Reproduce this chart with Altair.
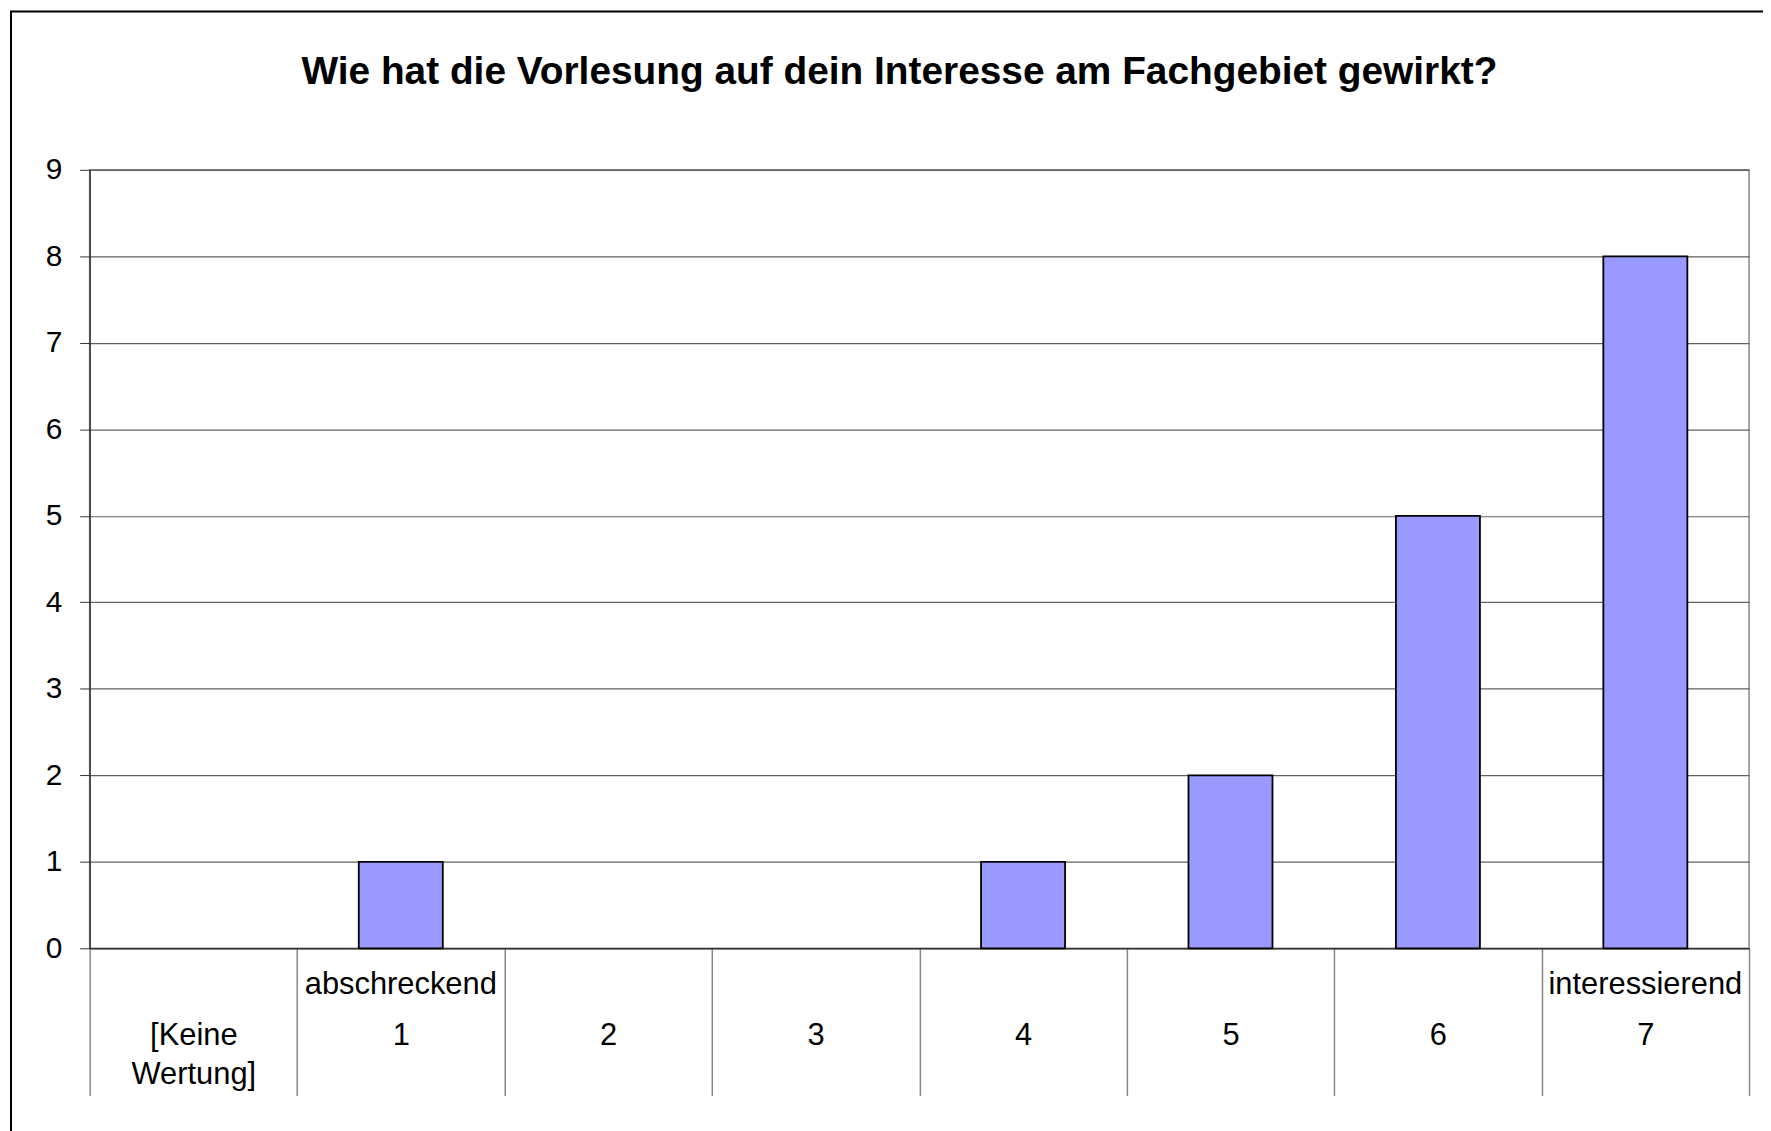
import altair as alt
import pandas as pd

categories = ["[Keine Wertung]", "1", "2", "3", "4", "5", "6", "7"]
counts = [0, 1, 0, 0, 1, 2, 5, 8]
top_labels = ["", "abschreckend", "", "", "", "", "", "interessierend"]
main_labels = [["[Keine", "Wertung]"], ["1"], ["2"], ["3"], ["4"], ["5"], ["6"], ["7"]]
y_ticks = [0, 1, 2, 3, 4, 5, 6, 7, 8, 9]
title = "Wie hat die Vorlesung auf dein Interesse am Fachgebiet gewirkt?"

df = pd.DataFrame({"Kategorie": categories, "Anzahl": counts})

def js_arr(lines):
    return "[" + ",".join("'" + l + "'" for l in lines) + "]"

main_expr = "''"
top_expr = "''"
for cat, top, main in reversed(list(zip(categories, top_labels, main_labels))):
    main_expr = f"datum.value == '{cat}' ? {js_arr(main)} : ({main_expr})"
    top_expr = f"datum.value == '{cat}' ? '{top}' : ({top_expr})"

FONT = "Liberation Sans"
x_scale = alt.Scale(domain=categories, paddingInner=0, paddingOuter=0)

y_enc = alt.Y(
    "Anzahl:Q",
    scale=alt.Scale(domain=[0, 9], nice=False),
    axis=alt.Axis(
        title=None,
        values=y_ticks,
        format="d",
        labelFont=FONT,
        labelFontSize=30,
        labelColor="#000000",
        labelPadding=18,
        tickSize=10,
        tickColor="#333333",
        domainColor="#333333",
        domainWidth=1.5,
        gridColor="#606060",
        gridWidth=1.2,
    ),
)

bars = alt.Chart(df).transform_filter("datum.Anzahl > 0").mark_bar(
    color="#9999FF", stroke="#000000", strokeWidth=1.8,
    width=alt.RelativeBandSize(0.405),
).encode(
    x=alt.X(
        "Kategorie:N",
        sort=categories,
        scale=x_scale,
        axis=alt.Axis(
            title=None,
            orient="bottom",
            labelAngle=0,
            labelExpr=main_expr,
            labelFont=FONT,
            labelFontSize=31,
            labelColor="#000000",
            labelBaseline="top",
            labelLineHeight=39,
            labelPadding=-75,
            labelLimit=0,
            tickBand="extent",
            tickSize=148,
            tickColor="#888888",
            tickWidth=1.5,
            domainColor="#333333",
            domainWidth=1.5,
            grid=False,
            labelOverlap=False,
        ),
    ),
    y=y_enc,
)

top_axis = alt.Chart(df).mark_point(opacity=0).encode(
    x=alt.X(
        "Kategorie:N",
        sort=categories,
        scale=x_scale,
        axis=alt.Axis(
            title=None,
            orient="bottom",
            labelAngle=0,
            labelExpr=top_expr,
            labelFont=FONT,
            labelFontSize=31,
            labelColor="#000000",
            labelBaseline="top",
            labelPadding=21,
            labelLimit=0,
            ticks=False,
            domain=False,
            grid=False,
            labelOverlap=False,
        ),
    ),
    y=y_enc,
)

frame = alt.Chart(alt.Data(values=[{}])).mark_rect(
    filled=False, stroke="#000000", strokeWidth=2
).encode(
    x=alt.value(-79), x2=alt.value(1720), y=alt.value(-159), y2=alt.value(1000)
)

chart = alt.layer(bars, top_axis, frame).resolve_axis(x="independent").properties(
    width=1667,
    height=782,
    title=alt.TitleParams(
        text=title, font=FONT, fontSize=39, fontWeight="bold",
        color="#000000", anchor="middle", dx=-20, offset=0,
        baseline="alphabetic", dy=113,
    ),
    autosize=alt.AutoSizeParams(type="none"),
    padding={"left": 82, "top": 160, "right": 14, "bottom": 181},
).configure_view(
    stroke="#888888", strokeWidth=1.5
)

chart.save("out.html", embed_options={"renderer": "svg", "actions": False})
